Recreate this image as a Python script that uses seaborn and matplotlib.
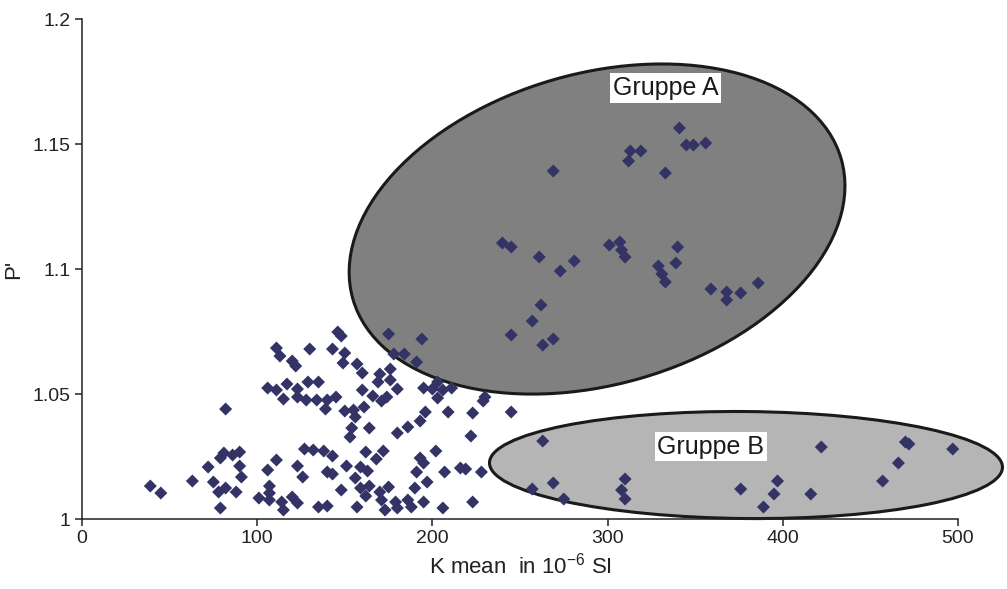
import numpy as np
import pandas as pd
import matplotlib
matplotlib.use("Agg")
import matplotlib.pyplot as plt
import seaborn as sns
from matplotlib.patches import Ellipse
from matplotlib.transforms import ScaledTranslation

# ---------------------------------------------------------------------------
# Data
# ---------------------------------------------------------------------------
# main cloud, lower left
k_cloud = [
    146, 148, 130, 143, 150, 149, 111, 113, 120, 122, 157, 160, 170, 176, 176,
    169, 180, 160, 166, 171, 174, 106, 111, 117, 115, 123, 123, 129, 135, 128,
    134, 140, 145, 139, 150, 155, 161, 82, 196, 209, 223, 193, 186, 180, 222,
    156, 154, 164, 153,
    39, 45, 63, 72, 79, 81, 86, 90, 90, 91, 75, 78, 82, 88, 79, 101, 111, 106,
    107, 107, 107, 114, 120, 123, 115, 123, 126, 127, 132, 138, 143, 140, 143,
    151, 162, 172, 168, 159, 163, 156, 159, 164, 148, 162, 170, 175, 135, 140,
    157, 202, 193, 195, 191, 207, 216, 219, 228, 197, 190, 171, 179, 186, 195,
    173, 180, 188, 206, 223,
]
p_cloud = [
    1.0748, 1.0732, 1.0680, 1.0680, 1.0664, 1.0624, 1.0684, 1.0652, 1.0632,
    1.0612, 1.0620, 1.0584, 1.0580, 1.0600, 1.0556, 1.0548, 1.0520, 1.0516,
    1.0492, 1.0472, 1.0488, 1.0524, 1.0516, 1.0540, 1.0480, 1.0520, 1.0488,
    1.0548, 1.0548, 1.0476, 1.0476, 1.0476, 1.0488, 1.0440, 1.0432, 1.0436,
    1.0448, 1.0440, 1.0428, 1.0428, 1.0424, 1.0392, 1.0368, 1.0344, 1.0332,
    1.0408, 1.0364, 1.0364, 1.0328,
    1.0132, 1.0104, 1.0152, 1.0208, 1.0244, 1.0264, 1.0256, 1.0268, 1.0212,
    1.0168, 1.0148, 1.0108, 1.0124, 1.0108, 1.0044, 1.0084, 1.0236, 1.0196,
    1.0132, 1.0104, 1.0076, 1.0068, 1.0088, 1.0064, 1.0036, 1.0212, 1.0168,
    1.0280, 1.0276, 1.0272, 1.0252, 1.0188, 1.0180, 1.0212, 1.0268, 1.0272,
    1.0240, 1.0208, 1.0192, 1.0164, 1.0124, 1.0132, 1.0116, 1.0092, 1.0108,
    1.0128, 1.0048, 1.0052, 1.0048, 1.0272, 1.0244, 1.0224, 1.0188, 1.0188,
    1.0204, 1.0200, 1.0188, 1.0148, 1.0124, 1.0076, 1.0068, 1.0076, 1.0068,
    1.0036, 1.0044, 1.0048, 1.0044, 1.0068,
]

# points inside / on the rim of "Gruppe A"
k_grp_a = [
    341, 345, 349, 356, 313, 319, 312, 333, 269, 240, 245, 261, 273, 281, 301,
    307, 308, 310, 340, 339, 329, 331, 333, 359, 368, 368, 376, 386, 262, 257,
    245, 269, 263, 175, 194, 178, 184, 191, 203, 200, 203, 211, 206, 195, 230,
    229, 245,
]
p_grp_a = [
    1.1564, 1.1496, 1.1496, 1.1504, 1.1472, 1.1472, 1.1432, 1.1384, 1.1392,
    1.1104, 1.1088, 1.1048, 1.0992, 1.1032, 1.1096, 1.1108, 1.1076, 1.1048,
    1.1088, 1.1024, 1.1012, 1.0980, 1.0948, 1.0920, 1.0908, 1.0876, 1.0904,
    1.0944, 1.0856, 1.0792, 1.0736, 1.0720, 1.0696, 1.0740, 1.0720, 1.0660,
    1.0660, 1.0628, 1.0548, 1.0520, 1.0484, 1.0524, 1.0516, 1.0524, 1.0488,
    1.0472, 1.0428,
]

# points inside "Gruppe B"
k_grp_b = [263, 257, 269, 275, 310, 308, 310, 376, 397, 395, 389, 416, 422,
           457, 466, 470, 472, 497]
p_grp_b = [1.0312, 1.0120, 1.0144, 1.0080, 1.0160, 1.0116, 1.0080, 1.0120,
           1.0152, 1.0100, 1.0048, 1.0100, 1.0288, 1.0152, 1.0224, 1.0308,
           1.0300, 1.0280]

x_ticks = [0, 100, 200, 300, 400, 500]
y_ticks = [1.0, 1.05, 1.1, 1.15, 1.2]
y_tick_labels = ["1", "1.05", "1.1", "1.15", "1.2"]

C_POINT = "#333366"

df = pd.DataFrame({
    "K": k_cloud + k_grp_a + k_grp_b,
    "P": p_cloud + p_grp_a + p_grp_b,
})

# ---------------------------------------------------------------------------
# Plot
# ---------------------------------------------------------------------------
sns.set_style("ticks")
plt.rcParams["font.family"] = ["Liberation Sans", "DejaVu Sans"]
plt.rcParams["mathtext.fontset"] = "custom"
plt.rcParams["mathtext.rm"] = "Liberation Sans"

fig = plt.figure(figsize=(10.07, 5.89), dpi=100)
ax = fig.add_axes([0.0814, 0.1188, 0.8699, 0.8489])

# ellipses sized in inches, centred on data coordinates
ell_a = Ellipse((0, 0), 5.08, 3.11, angle=16,
                transform=fig.dpi_scale_trans + ScaledTranslation(294, 1.116, ax.transData),
                facecolor="#808080", edgecolor="#1a1a1a", lw=2.2, zorder=1)
ell_b = Ellipse((0, 0), 5.13, 1.07, angle=-0.5,
                transform=fig.dpi_scale_trans + ScaledTranslation(379, 1.0216, ax.transData),
                facecolor="#b5b5b5", edgecolor="#1a1a1a", lw=2.2, zorder=1, clip_on=False)
ax.add_patch(ell_a)
ax.add_patch(ell_b)

sns.scatterplot(data=df, x="K", y="P", marker="D", s=44, color=C_POINT,
                edgecolor="none", linewidth=0, ax=ax, zorder=3, clip_on=False)

box = dict(facecolor="white", edgecolor="none", pad=2)
ax.text(333, 1.1724, "Gruppe A", fontsize=18, ha="center", va="center",
        color="#1a1a1a", bbox=box, zorder=4)
ax.text(359, 1.029, "Gruppe B", fontsize=18, ha="center", va="center",
        color="#1a1a1a", bbox=box, zorder=4)

ax.set_xlim(0, 500)
ax.set_ylim(1.0, 1.2)
ax.set_xticks(x_ticks)
ax.set_yticks(y_ticks)
ax.set_yticklabels(y_tick_labels)
ax.tick_params(axis="both", labelsize=14, length=5, width=1.1, color="#222222",
               labelcolor="#222222", direction="out")
ax.tick_params(axis="x", pad=3)
ax.set_xlabel(r"K mean  in $\mathregular{10^{-6}}$ SI", fontsize=16, color="#222222", labelpad=4)
ax.set_ylabel("P'", fontsize=16, color="#222222", labelpad=6)

for side in ["top", "right"]:
    ax.spines[side].set_visible(False)
for side in ["left", "bottom"]:
    ax.spines[side].set_linewidth(1.1)
    ax.spines[side].set_color("#222222")

fig.savefig("out.png", dpi=100)
plt.close(fig)
